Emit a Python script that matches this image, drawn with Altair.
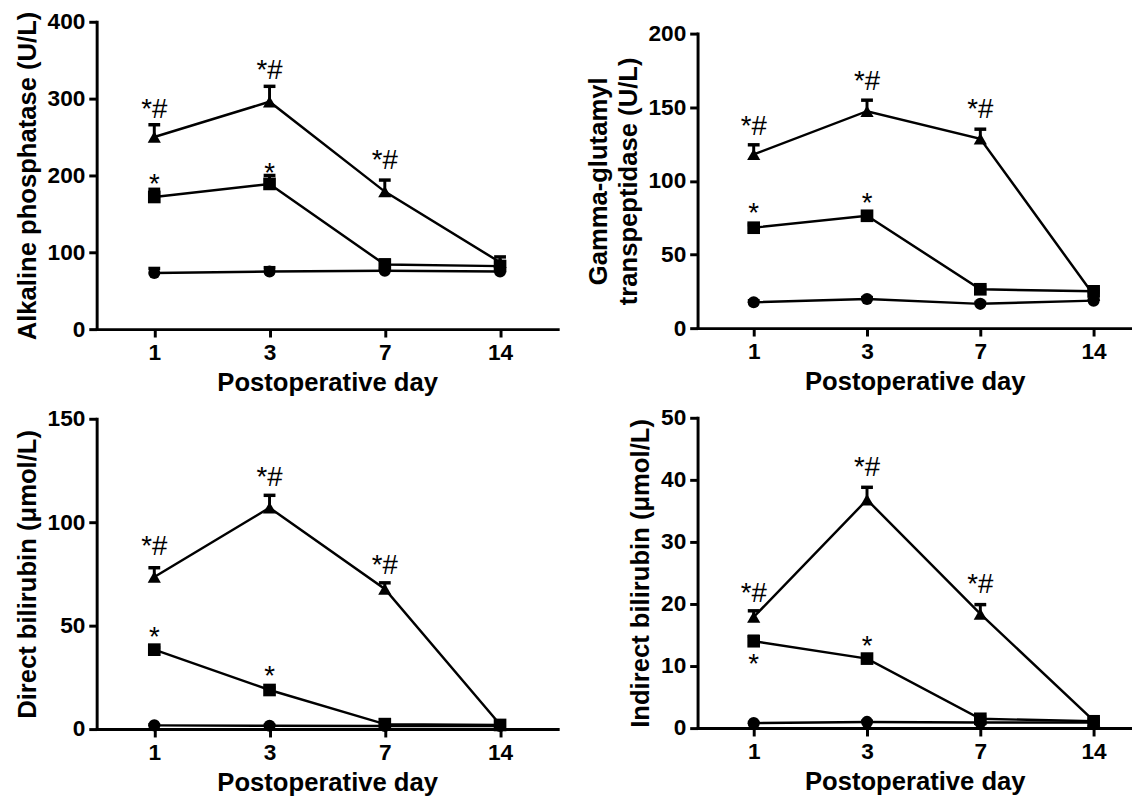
import altair as alt
import pandas as pd

days = ["1", "3", "7", "14"]
groups = ["Group A", "Group B", "Group C"]
shapes = ["circle", "square", "triangle-up"]

# Alkaline phosphatase (U/L)
alp_circle = [73, 75, 76, 75]
alp_circle_err = [6, 5, 3, 3]
alp_square = [172, 189, 84, 82]
alp_square_err = [10, 11, 6, 6]
alp_tri = [250, 296, 179, 87]
alp_tri_err = [16, 20, 15, 7]

# Gamma-glutamyl transpeptidase (U/L)
ggt_circle = [17.6, 19.8, 16.5, 18.7]
ggt_circle_err = [1, 1, 1, 1]
ggt_square = [68.2, 76.3, 26.4, 25]
ggt_square_err = [2, 2, 1.5, 1.5]
ggt_tri = [118, 147.3, 128.6, 22.5]
ggt_tri_err = [6.5, 7.5, 6.5, 2]

# Direct bilirubin (umol/L)
dbil_circle = [1.8, 1.6, 1.5, 1.5]
dbil_circle_err = [0.3, 0.3, 0.3, 0.3]
dbil_square = [38.4, 18.9, 2.4, 2.0]
dbil_square_err = [1, 1, 0.5, 0.5]
dbil_tri = [73.5, 107, 67.7, 2.2]
dbil_tri_err = [4.5, 6, 3, 0.5]

# Indirect bilirubin (umol/L)
ibil_circle = [0.8, 1.0, 0.9, 0.9]
ibil_circle_err = [0.1, 0.1, 0.1, 0.1]
ibil_square = [14.0, 11.2, 1.5, 1.1]
ibil_square_err = [0.8, 0.5, 0.3, 0.2]
ibil_tri = [17.9, 36.8, 18.4, 1.2]
ibil_tri_err = [1.0, 2.0, 1.5, 0.3]

# significance annotations: day, label, value level of text baseline
alp_ann_day = ["1", "3", "7", "1", "3"]
alp_ann_text = ["*#", "*#", "*#", "*", "*"]
alp_ann_y = [275, 326, 208, 177, 192]

ggt_ann_day = ["1", "3", "7", "1", "3"]
ggt_ann_text = ["*#", "*#", "*#", "*", "*"]
ggt_ann_y = [131, 162, 143, 72, 79]

dbil_ann_day = ["1", "3", "7", "1", "3"]
dbil_ann_text = ["*#", "*#", "*#", "*", "*"]
dbil_ann_y = [84, 117.6, 75, 40.3, 21.1]

ibil_ann_day = ["1", "3", "7", "3", "1"]
ibil_ann_text = ["*#", "*#", "*#", "*", "*"]
ibil_ann_y = [20.4, 40.7, 21.8, 11.8, 8.9]

FONT = "Liberation Sans"


def long_df(series, errs):
    rows = []
    for g, vals, es in zip(groups, series, errs):
        for d, v, e in zip(days, vals, es):
            rows.append({"day": d, "group": g, "mean": v, "top": v + e})
    return pd.DataFrame(rows)


def panel(series, errs, ann_day, ann_text, ann_y, ymax, yticks, ytitle,
          width, height, xpad, xalign):
    df = long_df(series, errs)
    ann = pd.DataFrame({"day": ann_day, "label": ann_text, "ann_y": ann_y})
    xs = alt.Scale(type="point", padding=xpad, align=xalign)
    xaxis = alt.Axis(labelAngle=0, title="Postoperative day")
    ys = alt.Scale(domain=[0, ymax], nice=False, zero=True)
    yaxis = alt.Axis(values=yticks, title=ytitle)

    def X():
        return alt.X("day:O", sort=days, scale=xs, axis=xaxis, title="Postoperative day")

    def Y(f):
        return alt.Y(f, type="quantitative", scale=ys, axis=yaxis, title=ytitle)

    line = alt.Chart(df).mark_line(color="black", strokeWidth=2.5).encode(
        x=X(), y=Y("mean"), detail="group:N")
    rule = alt.Chart(df).mark_rule(color="black", strokeWidth=3, opacity=1).encode(
        x=X(), y=Y("mean"), y2="top:Q")
    cap = alt.Chart(df).mark_tick(color="black", thickness=3.5, size=12, opacity=1).encode(
        x=X(), y=Y("top"))
    pts = alt.Chart(df).mark_point(filled=True, opacity=1, color="black").encode(
        x=X(), y=Y("mean"),
        shape=alt.Shape("group:N", scale=alt.Scale(domain=groups, range=shapes), legend=None),
        size=alt.Size("group:N", scale=alt.Scale(domain=groups, range=[150, 180, 220]), legend=None),
    )
    txt = alt.Chart(ann).mark_text(font=FONT, fontSize=28, color="black",
                                   baseline="alphabetic", align="center").encode(
        x=X(), y=Y("ann_y"), text="label:N")
    return alt.layer(line, rule, cap, pts, txt).properties(width=width, height=height)


LW, RW = 468, 441
p1 = panel([alp_circle, alp_square, alp_tri], [alp_circle_err, alp_square_err, alp_tri_err],
           alp_ann_day, alp_ann_text, alp_ann_y, 400, [0, 100, 200, 300, 400],
           "Alkaline phosphatase  (U/L)", LW, 312, 0.5, 0.5)
p2 = panel([ggt_circle, ggt_square, ggt_tri], [ggt_circle_err, ggt_square_err, ggt_tri_err],
           ggt_ann_day, ggt_ann_text, ggt_ann_y, 200, [0, 50, 100, 150, 200],
           ["Gamma-glutamyl", "transpeptidase (U/L)"], RW, 299, 0.417, 0.594)
p3 = panel([dbil_circle, dbil_square, dbil_tri], [dbil_circle_err, dbil_square_err, dbil_tri_err],
           dbil_ann_day, dbil_ann_text, dbil_ann_y, 150, [0, 50, 100, 150],
           "Direct bilirubin (μmol/L)", LW, 315, 0.5, 0.5)
p4 = panel([ibil_circle, ibil_square, ibil_tri], [ibil_circle_err, ibil_square_err, ibil_tri_err],
           ibil_ann_day, ibil_ann_text, ibil_ann_y, 50, [0, 10, 20, 30, 40, 50],
           "Indirect bilirubin (μmol/L)", RW, 315, 0.417, 0.594)

spacer = alt.Chart(pd.DataFrame({"s": [0]})).mark_point(opacity=0, size=1).encode(
    x=alt.value(0), y=alt.value(0)).properties(width=1, height=1)

ROWGAP = 13
left = alt.vconcat(p1, p3, spacing=ROWGAP)
right = alt.vconcat(alt.vconcat(spacer, p2, spacing=0), p4, spacing=ROWGAP)
chart = alt.hconcat(left, right, spacing=28).properties(
    padding={"left": 6, "top": -7, "right": 0, "bottom": 0}
).configure_view(strokeWidth=0).configure_axis(
    grid=False,
    domainColor="black", domainWidth=3, domainCap="square",
    tickColor="black", tickWidth=3, tickSize=8,
    labelFont=FONT, labelFontWeight="bold", labelFontSize=23, labelColor="black",
    labelPadding=4,
    titleFont=FONT, titleFontWeight="bold", titleFontSize=26, titleColor="black",
    titlePadding=7, titleLineHeight=30,
).configure_axisX(titlePadding=5, labelPadding=5)

chart.save("out.html", embed_options={"renderer": "svg", "actions": False})
